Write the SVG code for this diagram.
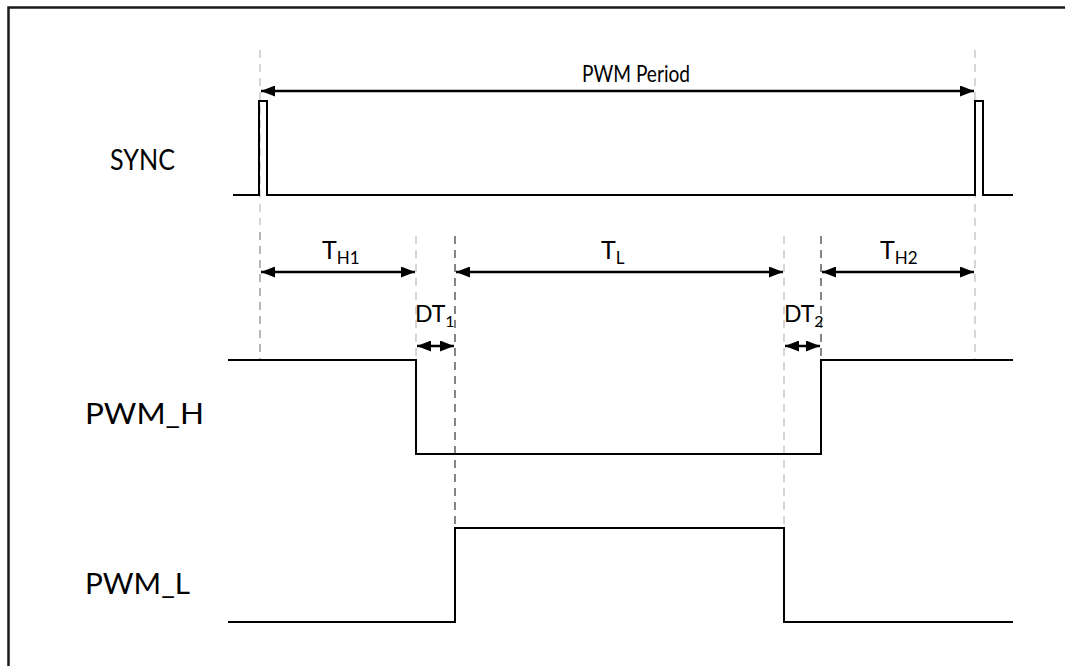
<svg xmlns="http://www.w3.org/2000/svg" width="1065" height="666" viewBox="0 0 1065 666">
<style>
.sig{fill:none;stroke:#000;stroke-width:2}
.dl{fill:none;stroke:#bbb;stroke-width:1.2;stroke-dasharray:8,6}
.dd{fill:none;stroke:#333;stroke-width:1.2;stroke-dasharray:8,6}
.dm{fill:none;stroke:#888;stroke-width:1.2;stroke-dasharray:8,6}
.ar{fill:none;stroke:#000;stroke-width:2.5;marker-start:url(#ah);marker-end:url(#ah)}
.lbl{font-family:Lato,"Open Sans","Liberation Sans",sans-serif;fill:#000}
</style>
<defs>
<marker id="ah" viewBox="0 0 14 11" refX="14" refY="5.5" markerWidth="14" markerHeight="11" markerUnits="userSpaceOnUse" orient="auto-start-reverse">
<path d="M0,0 L14,5.5 L0,11 z" fill="#000"/>
</marker>
</defs>
<rect width="1065" height="666" fill="#fff"/>
<path d="M8.5,666 V7.5 H1065" fill="none" stroke="#1a1a1a" stroke-width="2.5"/>
<g id="guides">
<line class="dl" x1="260" y1="50" x2="260" y2="225"/>
<line class="dm" x1="260" y1="232" x2="260" y2="360"/>
<line class="dl" x1="975" y1="50" x2="975" y2="360"/>
<line class="dl" x1="416" y1="236" x2="416" y2="360"/>
<line class="dd" x1="455" y1="236" x2="455" y2="528"/>
<line class="dl" x1="784" y1="236" x2="784" y2="528"/>
<line class="dd" x1="821" y1="236" x2="821" y2="454"/>
</g>
<g id="sync">
<text class="lbl" x="110" y="170" font-size="29" textLength="65" lengthAdjust="spacingAndGlyphs">SYNC</text>
<path class="sig" d="M233,195 H259 V101 H267 V195 H975 V101 H983 V195 H1013"/>
</g>
<g id="pwm_h">
<text class="lbl" x="85" y="424" font-size="29" textLength="119" lengthAdjust="spacingAndGlyphs">PWM_H</text>
<path class="sig" d="M228,360 H416 V454 H821 V360 H1013"/>
</g>
<g id="pwm_l">
<text class="lbl" x="85" y="594" font-size="29" textLength="105" lengthAdjust="spacingAndGlyphs">PWM_L</text>
<path class="sig" d="M228,622 H455 V528 H784 V622 H1013"/>
</g>
<g id="connectors">
<line class="ar" x1="261" y1="91" x2="974" y2="91"/>
<line class="ar" x1="261" y1="272" x2="415" y2="272"/>
<line class="ar" x1="456" y1="272" x2="783" y2="272"/>
<line class="ar" x1="822" y1="272" x2="974" y2="272"/>
<line class="ar" x1="417" y1="346" x2="454" y2="346"/>
<line class="ar" x1="785" y1="346" x2="820" y2="346"/>
</g>
<g id="labels">
<text class="lbl" x="582" y="82" font-size="23" textLength="108" lengthAdjust="spacingAndGlyphs">PWM Period</text>
<text class="lbl" x="322" y="259" font-size="25">T<tspan font-size="17" dy="5">H1</tspan></text>
<text class="lbl" x="601" y="259" font-size="25">T<tspan font-size="17" dy="5">L</tspan></text>
<text class="lbl" x="880" y="259" font-size="25">T<tspan font-size="17" dy="5">H2</tspan></text>
<text class="lbl" x="415" y="322" font-size="23">DT<tspan font-size="16" dy="5">1</tspan></text>
<text class="lbl" x="784" y="322" font-size="23">DT<tspan font-size="16" dy="5">2</tspan></text>
</g>
</svg>
